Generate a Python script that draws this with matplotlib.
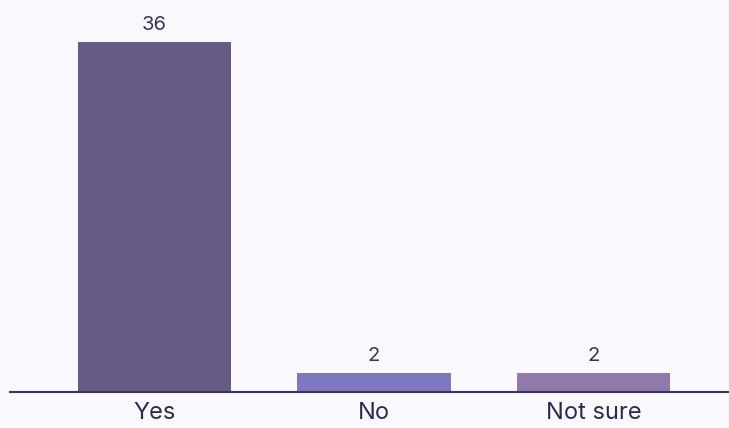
import matplotlib.pyplot as plt

# answers and counts
categories = ["Yes", "No", "Not sure"]
counts = [36, 2, 2]
colors = ["#675a85", "#7f77c0", "#8f7aab"]

plt.rcParams['font.family'] = ['Inter', 'DejaVu Sans']

fig = plt.figure(figsize=(7.29, 4.28), dpi=100, facecolor="#f9f8fc")
ax = fig.add_axes([10/729, 36/428, 719/729, 392/428])
ax.set_facecolor("#f9f8fc")

x = range(len(categories))
bars = ax.bar(x, counts, width=0.697, color=colors)

for b, v in zip(bars, counts):
    ax.text(b.get_x() + b.get_width()/2, v + 0.8, str(v), ha="center", va="bottom",
            fontsize=14.5, color="#3a3558")

ax.set_xlim(-0.658, 2.617)
ax.set_ylim(0, 40.3)
ax.set_xticks(list(x))
ax.set_xticklabels(categories, fontsize=17, color="#2e2a4a")
ax.tick_params(axis="x", length=0, pad=7)
ax.set_yticks([])
for s in ["top", "right", "left"]:
    ax.spines[s].set_visible(False)
ax.spines["bottom"].set_color("#3d3560")
ax.spines["bottom"].set_linewidth(1.5)

fig.savefig("out.png", dpi=100, facecolor=fig.get_facecolor())
